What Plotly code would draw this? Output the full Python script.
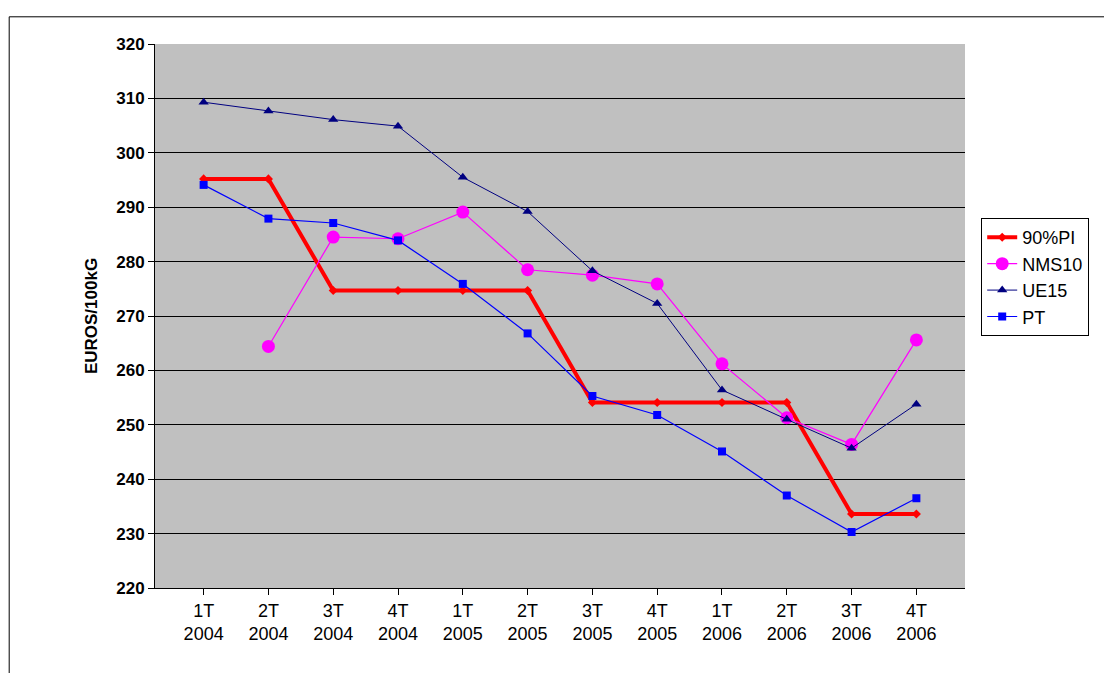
import plotly.graph_objects as go

categories = ['1T<br>2004', '2T<br>2004', '3T<br>2004', '4T<br>2004',
              '1T<br>2005', '2T<br>2005', '3T<br>2005', '4T<br>2005',
              '1T<br>2006', '2T<br>2006', '3T<br>2006', '4T<br>2006']
pi90 = [295.2, 295.2, 274.7, 274.7, 274.7, 274.7, 254.1, 254.1, 254.1, 254.1, 233.6, 233.6]
nms10 = [None, 264.4, 284.5, 284.2, 289.1, 278.5, 277.5, 275.9, 261.2, 251.3, 246.4, 265.6]
ue15 = [309.3, 307.7, 306.1, 304.9, 295.5, 289.2, 278.3, 272.3, 256.4, 251.0, 245.7, 253.8]
pt = [294.1, 287.9, 287.1, 283.9, 275.9, 266.8, 255.3, 251.8, 245.1, 237.0, 230.3, 236.5]

fig = go.Figure()
fig.add_trace(go.Scatter(x=categories, y=pi90, name='90%PI', mode='lines+markers',
                         line=dict(color='#ff0000', width=4),
                         marker=dict(symbol='diamond', size=7, color='#ff0000')))
fig.add_trace(go.Scatter(x=categories, y=nms10, name='NMS10', mode='lines+markers',
                         line=dict(color='#ff00ff', width=1.2),
                         marker=dict(symbol='circle', size=13, color='#ff00ff')))
fig.add_trace(go.Scatter(x=categories, y=ue15, name='UE15', mode='lines+markers',
                         line=dict(color='#000080', width=1),
                         marker=dict(symbol='triangle-up', size=9, color='#000080')))
fig.add_trace(go.Scatter(x=categories, y=pt, name='PT', mode='lines+markers',
                         line=dict(color='#0000ff', width=1.2),
                         marker=dict(symbol='square', size=8, color='#0000ff')))

fig.update_layout(
    width=1112, height=673,
    margin=dict(l=147, r=155, t=36, b=93),
    paper_bgcolor='white', plot_bgcolor='#c0c0c0',
    font=dict(family='Liberation Sans, Arial', size=18, color='black'),
    legend=dict(x=1.02, y=0.68, xanchor='left', yanchor='top',
                bordercolor='black', borderwidth=1, bgcolor='white',
                font=dict(size=18), tracegroupgap=2),
    xaxis=dict(showgrid=False, showline=True, linecolor='black', ticks='outside',
               ticklen=6, tickcolor='black', tickfont=dict(size=18)),
    yaxis=dict(range=[220, 320], dtick=10, showgrid=True, gridcolor='black',
               gridwidth=1, showline=True, linecolor='black', ticks='outside',
               ticklen=6, tickcolor='black', tickfont=dict(size=17, weight='bold'),
               title=dict(text='EUROS/100kG', font=dict(size=17, weight='bold'), standoff=14)),
)
fig.add_shape(type='rect', xref='paper', yref='paper', x0=-0.18, x1=1.2, y0=-0.2, y1=1.05,
              line=dict(color='black', width=1))
fig.write_html("out.html")
